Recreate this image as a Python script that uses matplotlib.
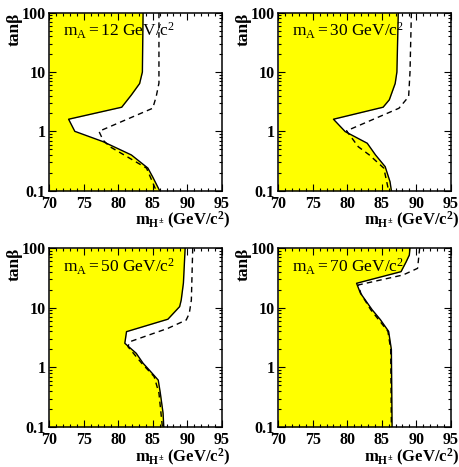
import matplotlib
matplotlib.use("Agg")
import matplotlib.pyplot as plt
from matplotlib.ticker import MultipleLocator, FixedLocator, FixedFormatter, LogLocator, NullFormatter

plt.rcParams['font.family'] = ['Liberation Serif', 'DejaVu Serif']
plt.rcParams['mathtext.fontset'] = 'custom'
plt.rcParams['mathtext.rm'] = 'Liberation Serif'
plt.rcParams['mathtext.it'] = 'Liberation Serif:italic'
plt.rcParams['mathtext.bf'] = 'Liberation Serif:bold'

# m_A values of the four panels
m_A = [12, 30, 50, 70]

# excluded region boundary (solid) : tanb, m_H+-
tb_solid_12 = [100, 10, 6.4, 4.1, 2.55, 1.6, 1.0, 0.67, 0.4, 0.24, 0.17, 0.1]
m_solid_12 = [83.6, 83.5, 83.1, 81.9, 80.5, 72.8, 73.7, 77.8, 81.9, 84.3, 85.0, 86.0]
tb_dash_12 = [100, 6.5, 3.84, 2.45, 1.0, 0.71, 0.55, 0.35, 0.24, 0.1]
m_dash_12 = [85.9, 85.9, 85.5, 85.0, 77.2, 77.8, 78.8, 81.7, 84.1, 85.5]

tb_solid_30 = [100, 10, 6.4, 3.4, 2.55, 1.6, 0.99, 0.63, 0.4, 0.254, 0.142, 0.1]
m_solid_30 = [87.4, 87.2, 86.95, 86.1, 85.2, 78.0, 79.7, 82.9, 84.1, 85.5, 86.2, 86.4]
tb_dash_30 = [100, 10, 3.84, 2.45, 1.02, 0.55, 0.4, 0.24, 0.1]
m_dash_30 = [89.3, 89.1, 88.9, 87.5, 79.9, 81.6, 83.2, 85.3, 86.0]

tb_solid_50 = [100, 25.9, 13.4, 10.4, 6.4, 3.96, 2.53, 1.72, 1.17, 0.9, 0.61, 0.37, 0.17, 0.1]
m_solid_50 = [89.7, 89.45, 89.13, 88.9, 87.2, 81.2, 80.95, 82.6, 83.6, 84.5, 85.8, 86.1, 86.5, 86.6]
tb_dash_50 = [100, 13.4, 8.0, 6.2, 4.5, 2.69, 2.22, 1.17, 0.7, 0.37, 0.1]
m_dash_50 = [90.8, 90.6, 90.3, 89.85, 87.2, 81.7, 81.4, 83.4, 85.2, 85.9, 86.4]

tb_solid_70 = [100, 76, 58.9, 40.1, 25.6, 17.6, 9.25, 6.3, 4.0, 1.98, 0.1]
m_solid_70 = [89.1, 89.0, 88.55, 87.8, 81.35, 81.9, 83.6, 84.8, 86.0, 86.4, 86.5]
tb_dash_70 = [100, 45.6, 35.3, 24.0, 17, 9.25, 4.0, 2.0, 0.1]
m_dash_70 = [90.5, 90.2, 88.1, 81.6, 82.0, 83.4, 85.9, 86.3, 86.4]

solid_tb = [tb_solid_12, tb_solid_30, tb_solid_50, tb_solid_70]
solid_m = [m_solid_12, m_solid_30, m_solid_50, m_solid_70]
dash_tb = [tb_dash_12, tb_dash_30, tb_dash_50, tb_dash_70]
dash_m = [m_dash_12, m_dash_30, m_dash_50, m_dash_70]

x_ticks = [70, 75, 80, 85, 90, 95]
y_ticks = [0.1, 1, 10, 100]
y_labels = ['0.1', '1', '10', '100']

fig = plt.figure(figsize=(4.59, 4.67), dpi=100)
positions = [[0.1074, 0.5917, 0.3756, 0.3812],
             [0.6063, 0.5917, 0.3756, 0.3812],
             [0.1074, 0.0857, 0.3756, 0.3833],
             [0.6063, 0.0857, 0.3756, 0.3833]]

for i in range(4):
    ax = fig.add_axes(positions[i])
    ax.fill_betweenx(solid_tb[i], 70, solid_m[i], color='#ffff00', lw=0)
    ax.plot(solid_m[i], solid_tb[i], color='black', lw=1.0)
    ax.plot(dash_m[i], dash_tb[i], color='black', lw=1.0, dashes=(4, 3))
    ax.set_yscale('log')
    ax.set_xlim(70, 95)
    ax.set_ylim(0.1, 100)
    ax.xaxis.set_major_locator(FixedLocator(x_ticks))
    ax.xaxis.set_minor_locator(MultipleLocator(1))
    ax.yaxis.set_major_locator(FixedLocator(y_ticks))
    ax.yaxis.set_major_formatter(FixedFormatter(y_labels))
    ax.yaxis.set_minor_locator(LogLocator(base=10, subs=range(2, 10)))
    ax.yaxis.set_minor_formatter(NullFormatter())
    ax.tick_params(which='both', direction='in', top=True, right=True, width=0.8)
    ax.tick_params(which='major', length=5, labelsize=11.5)
    ax.tick_params(axis='x', which='major', pad=3.5)
    ax.tick_params(axis='y', which='major', pad=2.5)
    ax.tick_params(which='minor', length=2.5)
    for lab in ax.get_xticklabels() + ax.get_yticklabels():
        lab.set_fontweight('bold')
    for s in ax.spines.values():
        s.set_linewidth(1.1)
    ax.text(0.081, 0.865, r'$\mathrm{m_A = %d\ GeV/c^2}$' % m_A[i],
            transform=ax.transAxes, fontsize=12.5, va='baseline', ha='left')
    ax.text(-0.2, 1.0, 'tanβ', rotation=90, transform=ax.transAxes,
            fontsize=12.5, fontweight='bold', ha='center', va='top')
    ax.text(1.05, -0.195, r'$\mathbf{m_{H^{\pm}}}$ (GeV/c$^{\mathbf{2}}$)',
            transform=ax.transAxes, fontsize=12, fontweight='bold',
            ha='right', va='baseline')

fig.savefig('out.png', dpi=100)
